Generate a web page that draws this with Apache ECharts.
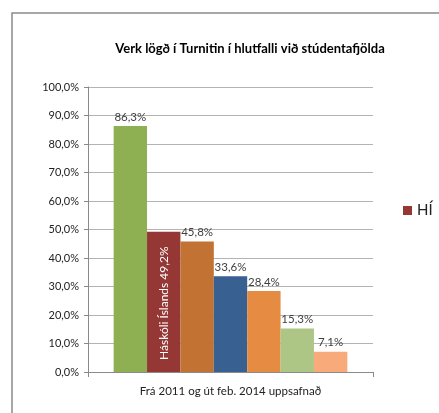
<!DOCTYPE html>
<html>
<head>
<meta charset="utf-8">
<script src="https://cdn.jsdelivr.net/npm/echarts@6/dist/echarts.min.js"></script>
<style>
  html, body { margin: 0; padding: 0; background: #fff; }
  #chart { width: 439px; height: 413px; }
</style>
</head>
<body>
<div id="chart"></div>
<script>
    // gögn lesin af myndinni
    var category = ['Frá 2011 og út feb. 2014 uppsafnað'];
    var seriesNames = ['Röð 1', 'HÍ', 'Röð 3', 'Röð 4', 'Röð 5', 'Röð 6', 'Röð 7'];
    var seriesValues = [86.3, 49.2, 45.8, 33.6, 28.4, 15.3, 7.1];
    var seriesColors = ['#8eb052', '#953735', '#c27333', '#386192', '#e68c42', '#adc685', '#f8aa7a'];
    var yTicks = { min: 0, max: 100, interval: 10 };

    var font = 'Lato';

    function pct(v) {
        return v.toFixed(1).replace('.', ',') + '%';
    }

    var series = seriesNames.map(function (name, i) {
        var s = {
            name: name,
            type: 'bar',
            data: [seriesValues[i]],
            barGap: '0%',
            barCategoryGap: '18%',
            itemStyle: { color: seriesColors[i] },
            label: {
                show: true,
                position: 'top',
                distance: 3,
                color: '#404040',
                fontFamily: font,
                fontSize: 11.5,
                formatter: function (p) { return pct(p.value); }
            }
        };
        if (name === 'HÍ') {
            s.label = {
                show: true,
                position: 'insideBottom',
                rotate: 90,
                align: 'left',
                verticalAlign: 'middle',
                distance: 12,
                color: '#ffffff',
                fontFamily: font,
                fontSize: 12,
                formatter: function (p) { return 'Háskóli Íslands ' + pct(p.value); }
            };
        }
        return s;
    });

    var option = {
        backgroundColor: '#ffffff',
        animation: false,
        title: {
            text: 'Verk lögð í Turnitin í hlutfalli við stúdentafjölda',
            left: 245,
            top: 37,
            textAlign: 'center',
            textStyle: { fontFamily: font, fontSize: 13, fontWeight: 'bold', color: '#000' }
        },
        legend: {
            data: ['HÍ'],
            left: 398,
            top: 198,
            itemWidth: 9,
            itemHeight: 9,
            itemGap: 4,
            icon: 'rect',
            textStyle: { fontFamily: font, fontSize: 15, color: '#222', padding: [0, 0, 0, 0] }
        },
        graphic: [{
            type: 'rect',
            shape: { x: 12, y: 13, width: 600, height: 600 },
            style: { fill: 'none', stroke: '#8a8a8a', lineWidth: 1.5 },
            silent: true
        }],
        grid: { left: 88, right: 66, top: 87, bottom: 41 },
        xAxis: {
            type: 'category',
            data: category,
            axisLine: { lineStyle: { color: '#8a8a8a' } },
            axisTick: { show: true, length: 5, lineStyle: { color: '#8a8a8a' } },
            axisLabel: { margin: 13, fontFamily: font, fontSize: 11.5, color: '#222' }
        },
        yAxis: {
            type: 'value',
            min: yTicks.min,
            max: yTicks.max,
            interval: yTicks.interval,
            axisLine: { show: true, lineStyle: { color: '#8a8a8a' } },
            axisTick: { show: true, length: 4, lineStyle: { color: '#8a8a8a' } },
            splitLine: { lineStyle: { color: '#b3b3b3' } },
            axisLabel: { margin: 9, fontFamily: font, fontSize: 11, color: '#222', formatter: pct }
        },
        series: series
    };

    var myChart = echarts.init(document.getElementById('chart'), null, { renderer: 'canvas' });
    myChart.setOption(option);
</script>
</body>
</html>
